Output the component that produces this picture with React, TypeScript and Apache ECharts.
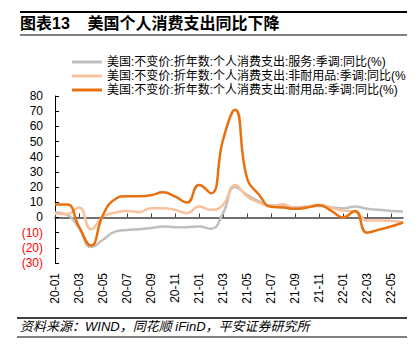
import React, { useEffect, useRef } from "react";
import * as echarts from "echarts";

const months: string[] = [
  "20-01","20-02","20-03","20-04","20-05","20-06","20-07","20-08","20-09","20-10","20-11","20-12",
  "21-01","21-02","21-03","21-04","21-05","21-06","21-07","21-08","21-09","21-10","21-11","21-12",
  "22-01","22-02","22-03","22-04","22-05","22-06",
];

const servicesYoY: number[] = [
  3.2, 1.7, -7, -19.5, -14.7, -9.3, -8.2, -7.7, -7, -6, -6.4, -6.4,
  -6, -7.5, 2.8, 20, 14.9, 10.5, 7.8, 7.6, 6.5, 7.2, 7.6, 6.8,
  6, 7.2, 5.7, 5, 4.3, 3.9,
];

const nondurableYoY: number[] = [
  2.4, 2.2, 6.5, -7.7, 0.6, 3.2, 4.3, 3.5, 6, 6, 5, 2.8,
  7.2, 5, 8.3, 21.4, 13.8, 9.8, 7.2, 8.7, 6, 7.2, 8.3, 6.5,
  4.5, 3.9, -2, -2, -2.2, -3.3,
];

const durableYoY: number[] = [
  8.5, 8.5, -6, -18.5, 1.7, 12, 14, 14, 14.6, 16.6, 13.8, 9.8,
  21.4, 16, 51, 71, 26, 15, 7, 6.5, 5.7, 6.5, 8, 4.5,
  0, 4.3, -10, -8, -6, -3.3,
];

const seriesNames: string[] = [
  "美国:不变价:折年数:个人消费支出:服务:季调:同比(%)",
  "美国:不变价:折年数:个人消费支出:非耐用品:季调:同比(%)",
  "美国:不变价:折年数:个人消费支出:耐用品:季调:同比(%)",
];

const FONT = "'Liberation Sans', 'Noto Sans CJK SC', sans-serif";

export default function App() {
  const ref = useRef<HTMLDivElement>(null);
  useEffect(() => {
    if (!ref.current) return;
    const chart = echarts.init(ref.current, undefined, { renderer: "svg" });
    const colors = ["#BFBFBF", "#F9C29C", "#E8700F"];
    const data = [servicesYoY, nondurableYoY, durableYoY];
    chart.setOption({
      animation: false,
      textStyle: { fontFamily: FONT },
      grid: { left: 55, right: 15, top: 96, bottom: 90, containLabel: false },
      legend: {
        orient: "vertical",
        left: 67,
        top: 51,
        icon: "rect",
        itemWidth: 30,
        itemHeight: 3,
        itemGap: 2,
        textStyle: {
          fontSize: 12,
          color: "#000",
          fontFamily: FONT,
          width: 301,
          overflow: "truncate",
          ellipsis: "",
        },
        data: seriesNames,
      },
      xAxis: [
        {
          type: "category",
          data: months,
          boundaryGap: false,
          axisLine: { onZero: true, lineStyle: { color: "#404040", width: 1.5 } },
          axisTick: { show: true, inside: true, length: 4, interval: 1, alignWithLabel: true, lineStyle: { color: "#404040", width: 1 } },
          axisLabel: { show: false },
          splitLine: { show: false },
        },
        {
          type: "category",
          data: months,
          boundaryGap: false,
          position: "bottom",
          axisLine: { show: false, onZero: false },
          axisTick: { show: false },
          axisLabel: { show: true, interval: 1, rotate: 90, margin: 10, fontSize: 12, color: "#000", fontFamily: FONT },
          splitLine: { show: false },
        },
      ],
      yAxis: {
        type: "value",
        min: -30,
        max: 80,
        interval: 10,
        axisLine: { show: true, lineStyle: { color: "#000", width: 1 } },
        axisTick: { show: true, inside: true, length: 4, lineStyle: { color: "#000" } },
        splitLine: { show: false },
        axisLabel: {
          fontSize: 12,
          margin: 12,
          fontFamily: FONT,
          formatter: (v: number) => (v < 0 ? `(${-v})` : `${v}`),
          color: (v: any) => (Number(v) < 0 ? "#FF0000" : "#000"),
        },
      },
      series: seriesNames.map((name, i) => ({
        name,
        type: "line",
        xAxisIndex: 0,
        data: data[i],
        smooth: true,
        symbol: "none",
        lineStyle: { color: colors[i], width: 2.5 },
        itemStyle: { color: colors[i] },
        z: i + 2,
      })),
      graphic: [
        { type: "line", shape: { x1: 20, y1: 12, x2: 407, y2: 12 }, style: { stroke: "#000", lineWidth: 2 } },
        { type: "text", left: 20, top: 15, style: { text: "图表13    美国个人消费支出同比下降", font: `bold 16px ${FONT}`, fill: "#000" } },
        { type: "line", shape: { x1: 20, y1: 35, x2: 407, y2: 35 }, style: { stroke: "#000", lineWidth: 1 } },
        { type: "line", shape: { x1: 17, y1: 318, x2: 407, y2: 318 }, style: { stroke: "#000", lineWidth: 1.5 } },
        { type: "text", left: 20, top: 320, style: { text: "资料来源：WIND，同花顺 iFinD，平安证券研究所", font: `italic 13px ${FONT}`, fill: "#000" } },
        { type: "line", shape: { x1: 17, y1: 337, x2: 407, y2: 337 }, style: { stroke: "#000", lineWidth: 1 } },
      ],
    });
    return () => chart.dispose();
  }, []);
  return <div ref={ref} style={{ width: 418, height: 353, position: "absolute", left: 0, top: 0 }} />;
}
